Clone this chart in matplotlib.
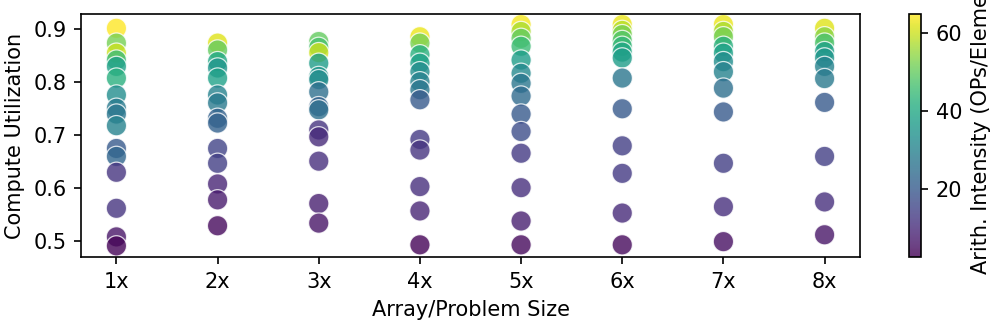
import matplotlib
matplotlib.use("Agg")
import matplotlib.pyplot as plt
from matplotlib.colors import Normalize

sizes = ["1x", "2x", "3x", "4x", "5x", "6x", "7x", "8x"]

util_1x = [0.901, 0.873, 0.854, 0.841, 0.829, 0.807, 0.775, 0.750, 0.739, 0.717, 0.674, 0.659, 0.629, 0.561, 0.507, 0.490]
ai_1x = [65, 52, 60, 45, 38, 42, 33, 28, 27, 30, 20, 23, 12, 12, 6, 3]

util_2x = [0.873, 0.860, 0.838, 0.826, 0.807, 0.775, 0.760, 0.731, 0.722, 0.674, 0.646, 0.607, 0.577, 0.528]
ai_2x = [62, 50, 40, 35, 38, 30, 28, 22, 22, 15, 14, 9, 7, 4]

util_3x = [0.876, 0.865, 0.855, 0.835, 0.810, 0.804, 0.781, 0.753, 0.747, 0.709, 0.696, 0.650, 0.570, 0.533]
ai_3x = [50, 47, 60, 37, 35, 33, 25, 22, 25, 12, 10, 11, 8, 6]

util_4x = [0.885, 0.873, 0.851, 0.835, 0.819, 0.800, 0.785, 0.766, 0.691, 0.671, 0.602, 0.556, 0.492]
ai_4x = [63, 52, 42, 38, 33, 30, 27, 20, 13, 12, 11, 9, 3]

util_5x = [0.908, 0.895, 0.882, 0.867, 0.841, 0.816, 0.797, 0.773, 0.739, 0.706, 0.665, 0.600, 0.537, 0.492]
ai_5x = [64, 57, 50, 45, 37, 32, 27, 24, 20, 17, 13, 11, 8, 4]

util_6x = [0.908, 0.897, 0.889, 0.878, 0.867, 0.856, 0.845, 0.807, 0.749, 0.679, 0.627, 0.552, 0.492]
ai_6x = [63, 58, 52, 48, 44, 40, 37, 27, 20, 14, 13, 10, 4]

util_7x = [0.908, 0.895, 0.885, 0.867, 0.854, 0.838, 0.819, 0.788, 0.743, 0.646, 0.564, 0.498]
ai_7x = [63, 57, 52, 42, 38, 33, 30, 25, 20, 14, 11, 5]

util_8x = [0.901, 0.885, 0.873, 0.857, 0.845, 0.829, 0.806, 0.761, 0.659, 0.573, 0.511]
ai_8x = [62, 54, 47, 38, 35, 30, 28, 20, 14, 11, 6]

utils = [util_1x, util_2x, util_3x, util_4x, util_5x, util_6x, util_7x, util_8x]
ais = [ai_1x, ai_2x, ai_3x, ai_4x, ai_5x, ai_6x, ai_7x, ai_8x]

xs, ys, cs = [], [], []
for i, (u, a) in enumerate(zip(utils, ais)):
    xs += [i] * len(u)
    ys += u
    cs += a

fig = plt.figure(figsize=(6.64, 2.16), dpi=150)
ax = fig.add_axes([81 / 996, 67 / 324, 779 / 996, 243 / 324])
cax = fig.add_axes([909 / 996, 67 / 324, 12 / 996, 243 / 324])

sc = ax.scatter(xs, ys, c=cs, cmap="viridis", norm=Normalize(2.5, 65),
                s=95, alpha=0.8, edgecolors="white", linewidths=0.6)
ax.set_xticks(range(len(sizes)))
ax.set_xticklabels(sizes)
ax.set_xlim(-0.35, 7.35)
ax.set_ylim(0.469, 0.928)
ax.set_yticks([0.5, 0.6, 0.7, 0.8, 0.9])
ax.set_xlabel("Array/Problem Size")
ax.set_ylabel("Compute Utilization")

cb = fig.colorbar(sc, cax=cax)
cb.set_ticks([20, 40, 60])
cb.set_label("Arith. Intensity (OPs/Element)")
# the label runs past the top of the figure, as in the original
cb.ax.yaxis.label.set_y(0.565)

fig.savefig("out.png", dpi=150)
